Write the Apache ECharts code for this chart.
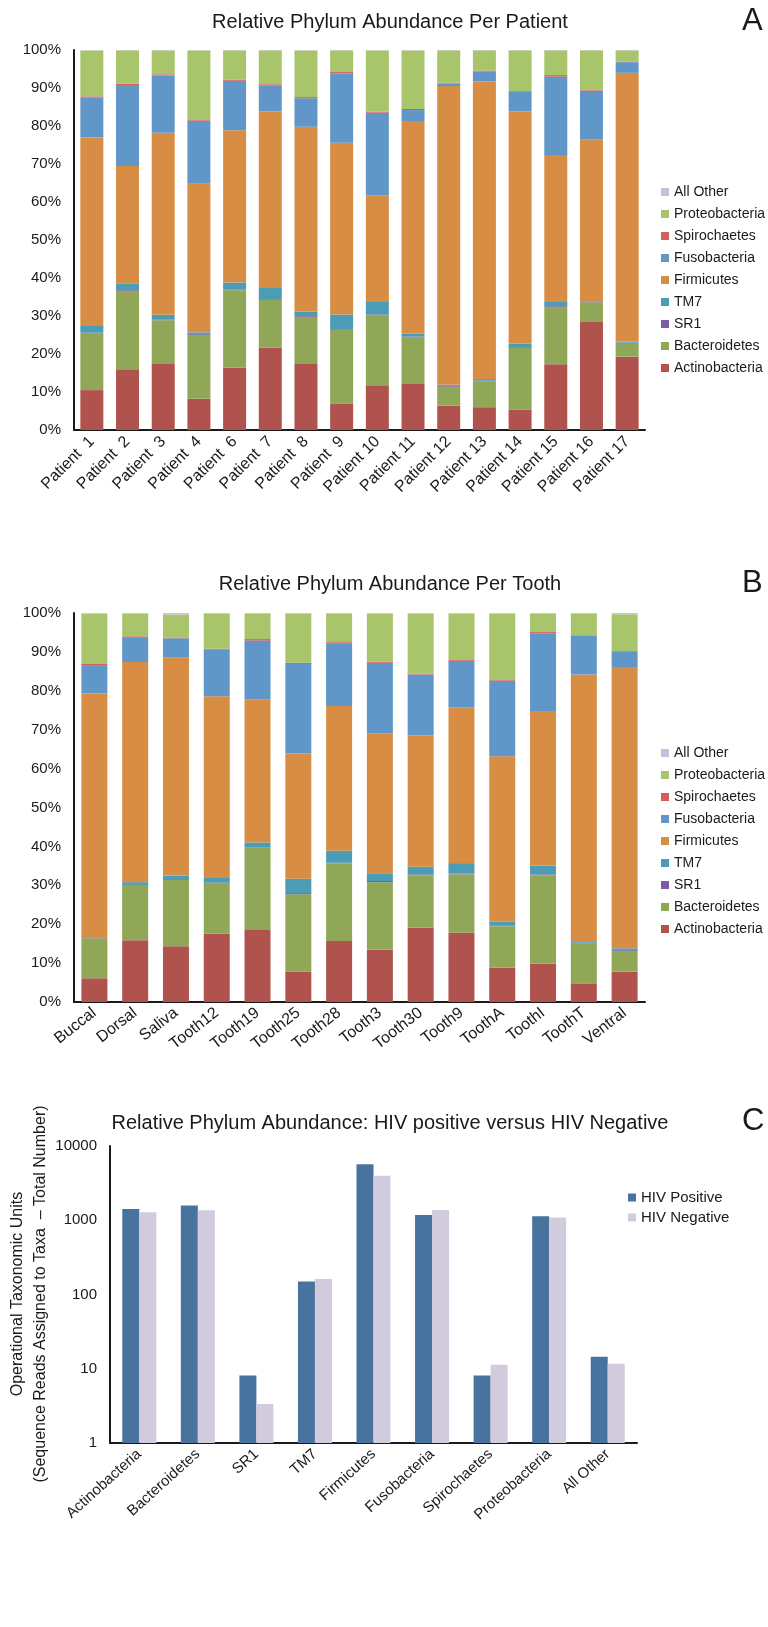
<!DOCTYPE html>
<html lang="en">
<head>
    <meta charset="UTF-8">
    <title>Relative Phylum Abundance</title>
    <script src="https://cdn.jsdelivr.net/npm/echarts@6/dist/echarts.min.js"></script>
    <style>
        html, body { margin: 0; padding: 0; background: #fff; }
    </style>
</head>
<body>
    <div id="main" style="width: 768px;height:1627px;"></div>
    <script>
        // categories
        const patients = ['Patient  1', 'Patient  2', 'Patient  3', 'Patient  4', 'Patient  6', 'Patient  7', 'Patient  8', 'Patient  9',
            'Patient 10', 'Patient 11', 'Patient 12', 'Patient 13', 'Patient 14', 'Patient 15', 'Patient 16', 'Patient 17'];
        const sites = ['Buccal', 'Dorsal', 'Saliva', 'Tooth12', 'Tooth19', 'Tooth25', 'Tooth28', 'Tooth3', 'Tooth30', 'Tooth9',
            'ToothA', 'ToothI', 'ToothT', 'Ventral'];
        const phyla = ['Actinobacteria', 'Bacteroidetes', 'SR1', 'TM7', 'Firmicutes', 'Fusobacteria', 'Spirochaetes', 'Proteobacteria', 'All Other'];
        const phylumColors = ['#b0534e', '#8fa757', '#7b5c9e', '#4a9db5', '#d88d45', '#6096c8', '#d45f5a', '#a8c56b', '#c9bfdc'];

        // A: percent per patient
        const patActino  = [10.5, 16.0, 17.4, 8.2, 16.4, 21.7, 17.4, 7.0, 11.8, 12.1, 6.4, 6.0, 5.4, 17.3, 28.4, 19.3];
        const patBact    = [14.9, 20.6, 11.5, 16.8, 20.4, 12.5, 12.4, 19.3, 18.4, 12.3, 5.0, 6.8, 16.2, 15.1, 5.2, 3.6];
        const patSR1     = [0.2, 0.2, 0.2, 0.2, 0.2, 0.2, 0.2, 0.2, 0.2, 0.2, 0.2, 0.2, 0.2, 0.2, 0.1, 0.1];
        const patTM7     = [1.8, 1.8, 1.2, 0.5, 1.8, 3.0, 1.1, 3.9, 3.3, 0.8, 0.3, 0.4, 1.0, 1.3, 0.2, 0.2];
        const patFirm    = [49.6, 30.9, 47.9, 39.1, 40.1, 46.5, 48.7, 45.2, 28.1, 55.9, 78.6, 78.4, 61.1, 38.5, 42.6, 70.8];
        const patFuso    = [10.5, 21.3, 15.1, 16.6, 13.0, 6.8, 7.5, 18.3, 21.7, 2.9, 0.7, 2.5, 5.1, 20.6, 12.8, 2.8];
        const patSpiro   = [0.3, 0.3, 0.3, 0.2, 0.3, 0.3, 0.3, 0.3, 0.3, 0.3, 0.2, 0.3, 0.2, 0.4, 0.2, 0.1];
        const patProteo  = [12.1, 8.8, 6.3, 18.3, 7.7, 8.9, 12.3, 5.7, 16.1, 15.4, 8.5, 5.3, 10.7, 6.5, 10.4, 3.0];
        const patOther   = [0.1, 0.1, 0.1, 0.1, 0.1, 0.1, 0.1, 0.1, 0.1, 0.1, 0.1, 0.1, 0.1, 0.1, 0.1, 0.1];

        // B: percent per tooth / site
        const siteActino = [6.1, 15.9, 14.3, 17.6, 18.7, 7.8, 15.7, 13.4, 19.1, 17.8, 8.8, 9.9, 4.8, 7.8];
        const siteBact   = [10.3, 14.0, 17.1, 12.9, 21.0, 19.9, 20.0, 17.4, 13.5, 15.0, 10.7, 22.7, 10.3, 5.3];
        const siteSR1    = [0.1, 0.2, 0.2, 0.2, 0.1, 0.3, 0.1, 0.3, 0.2, 0.2, 0.2, 0.2, 0.1, 0.2];
        const siteTM7    = [0.2, 0.7, 0.9, 1.2, 1.2, 3.7, 3.1, 2.0, 2.0, 2.7, 1.0, 2.2, 0.2, 0.5];
        const siteFirm   = [62.7, 56.6, 56.1, 46.7, 36.8, 32.2, 37.2, 36.0, 33.7, 40.1, 42.5, 39.8, 68.8, 72.1];
        const siteFuso   = [7.2, 6.4, 4.9, 12.0, 15.1, 23.0, 16.1, 18.1, 15.7, 11.9, 19.4, 20.0, 10.0, 4.1];
        const siteSpiro  = [0.3, 0.2, 0.2, 0.2, 0.4, 0.3, 0.3, 0.3, 0.2, 0.2, 0.2, 0.3, 0.1, 0.2];
        const siteProteo = [13.0, 5.9, 5.9, 9.1, 6.6, 12.7, 7.4, 12.4, 15.5, 12.0, 17.1, 4.8, 5.6, 9.5];
        const siteOther  = [0.1, 0.1, 0.4, 0.1, 0.1, 0.1, 0.1, 0.1, 0.1, 0.1, 0.1, 0.1, 0.1, 0.3];

        // C: OTU counts (log scale)
        const hivPositive = [1420, 1575, 8.1, 150, 5670, 1180, 8.1, 1130, 14.5];
        const hivNegative = [1280, 1365, 3.35, 162, 3990, 1375, 11.3, 1085, 11.7];
        const percentTicks = ['0%', '10%', '20%', '30%', '40%', '50%', '60%', '70%', '80%', '90%', '100%'];

        const patientSeries = [patActino, patBact, patSR1, patTM7, patFirm, patFuso, patSpiro, patProteo, patOther];
        const siteSeries = [siteActino, siteBact, siteSR1, siteTM7, siteFirm, siteFuso, siteSpiro, siteProteo, siteOther];

        const FONT = '"Liberation Sans", Arial, sans-serif';
        const TXT = '#1a1a1a';

        var chartDom = document.getElementById('main');
        var myChart = echarts.init(chartDom);

        function pctAxis(idx) {
            return {
                type: 'value', gridIndex: idx, min: 0, max: 100, interval: 10,
                splitLine: { show: false }, axisTick: { show: false },
                axisLine: { show: true, lineStyle: { color: TXT, width: 2 } },
                axisLabel: { fontSize: 15, color: TXT, fontFamily: FONT, margin: 13,
                    formatter: function (v) { return percentTicks[v / 10]; } }
            };
        }
        function catAxis(idx, data, rot, size) {
            return {
                type: 'category', gridIndex: idx, data: data,
                axisTick: { show: false },
                axisLine: { lineStyle: { color: TXT, width: 2 } },
                axisLabel: { interval: 0, rotate: rot, fontSize: size, color: TXT, fontFamily: FONT, margin: 9 }
            };
        }

        var series = [];
        phyla.forEach(function (name, i) {
            series.push({ name: name, type: 'bar', stack: 'pat', xAxisIndex: 0, yAxisIndex: 0, barWidth: 23,
                itemStyle: { color: phylumColors[i] }, data: patientSeries[i] });
        });
        phyla.forEach(function (name, i) {
            series.push({ name: name, type: 'bar', stack: 'site', xAxisIndex: 1, yAxisIndex: 1, barWidth: 26,
                itemStyle: { color: phylumColors[i] }, data: siteSeries[i] });
        });
        series.push({ name: 'HIV Positive', type: 'bar', xAxisIndex: 2, yAxisIndex: 2, barWidth: 17, barGap: '0%',
            itemStyle: { color: '#49739f' }, data: hivPositive });
        series.push({ name: 'HIV Negative', type: 'bar', xAxisIndex: 2, yAxisIndex: 2, barWidth: 17, barGap: '0%',
            itemStyle: { color: '#d2cbdd' }, data: hivNegative });

        const legendNames = phyla.slice().reverse();
        function phylumLegend(top) {
            return {
                left: 661, top: top, orient: 'vertical', padding: 0, itemWidth: 8, itemHeight: 8, itemGap: 8,
                icon: 'rect', selectedMode: false, data: legendNames,
                textStyle: { fontSize: 14, lineHeight: 14, color: TXT, fontFamily: FONT }
            };
        }

        var option = {
            animation: false,
            backgroundColor: '#fff',
            title: [
                { text: 'Relative Phylum Abundance Per Patient', left: 390, top: 12, textAlign: 'center', padding: 0,
                  textStyle: { fontSize: 20, fontWeight: 'normal', color: TXT, fontFamily: FONT } },
                { text: 'Relative Phylum Abundance Per Tooth', left: 390, top: 574, textAlign: 'center', padding: 0,
                  textStyle: { fontSize: 20, fontWeight: 'normal', color: TXT, fontFamily: FONT } },
                { text: 'Relative Phylum Abundance: HIV positive versus HIV Negative', left: 390, top: 1113, textAlign: 'center', padding: 0,
                  textStyle: { fontSize: 20, fontWeight: 'normal', color: TXT, fontFamily: FONT } }
            ],
            legend: [
                phylumLegend(185),
                phylumLegend(746),
                { left: 628, top: 1190, orient: 'vertical', padding: 0, itemWidth: 8, itemHeight: 8, itemGap: 5,
                  icon: 'rect', selectedMode: false, data: ['HIV Positive', 'HIV Negative'],
                  textStyle: { fontSize: 15, lineHeight: 15, color: TXT, fontFamily: FONT } }
            ],
            grid: [
                { left: 74, top: 50, width: 571, height: 380 },
                { left: 74, top: 613, width: 571, height: 389 },
                { left: 110, top: 1146, width: 527, height: 297 }
            ],
            xAxis: [
                catAxis(0, patients, 45, 16),
                catAxis(1, sites, 38, 16),
                catAxis(2, phyla, 42, 15)
            ],
            yAxis: [
                pctAxis(0),
                pctAxis(1),
                {
                    type: 'log', logBase: 10, gridIndex: 2, min: 1, max: 10000,
                    splitLine: { show: false }, axisTick: { show: false }, minorTick: { show: false },
                    axisLine: { show: true, lineStyle: { color: TXT, width: 2 } },
                    axisLabel: { fontSize: 15, color: TXT, fontFamily: FONT, margin: 13,
                        formatter: function (v) { return String(Math.round(v)); } }
                }
            ],
            graphic: [
                { type: 'text', left: 742, top: 6, style: { text: 'A', fontSize: 31, fill: TXT, fontFamily: FONT } },
                { type: 'text', left: 742, top: 568, style: { text: 'B', fontSize: 31, fill: TXT, fontFamily: FONT } },
                { type: 'text', left: 742, top: 1106, style: { text: 'C', fontSize: 31, fill: TXT, fontFamily: FONT } },
                { type: 'text', x: 18, y: 1294, rotation: Math.PI / 2,
                  style: { text: 'Operational Taxonomic Units', fontSize: 16, fill: TXT, fontFamily: FONT, align: 'center', verticalAlign: 'middle' } },
                { type: 'text', x: 41, y: 1294, rotation: Math.PI / 2,
                  style: { text: '(Sequence Reads Assigned to Taxa  \u2013 Total Number)', fontSize: 16, fill: TXT, fontFamily: FONT, align: 'center', verticalAlign: 'middle' } }
            ],
            series: series
        };

        myChart.setOption(option);
    </script>
</body>
</html>
